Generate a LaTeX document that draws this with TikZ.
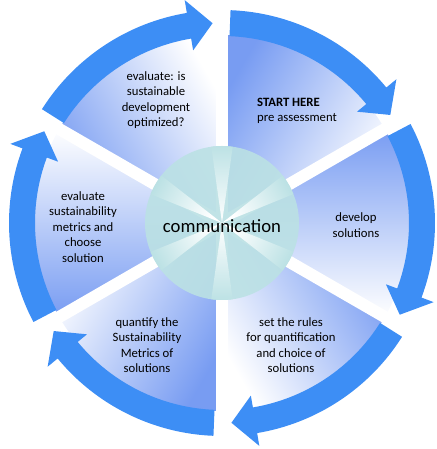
\documentclass[tikz,border=0pt]{standalone}
\usepackage{fontspec}
\setmainfont{Carlito}
\definecolor{arrowblue}{RGB}{61,142,245}
\definecolor{wedgeblue}{RGB}{120,156,242}
\definecolor{hubteal}{RGB}{187,225,228}

\begin{document}
\begin{tikzpicture}[x=1pt, y=1pt,
    band/.style={fill=arrowblue, draw=none},
    gapline/.style={white, line width=12},
    stagetext/.style={align=center, text=black, font=\fontsize{12.7}{15.5}\selectfont}]
      \useasboundingbox (-222,-226) rectangle (214,223);
      \coordinate (C) at (0,0);
      \foreach \s in {90,30,-30,-90,-150,150} {
        \pgfmathsetmacro\m{\s-30}
        \shade[top color=wedgeblue, bottom color=white, shading angle=\m]
          (C) -- (\s:188) arc[start angle=\s, end angle=\s-60, radius=188] -- cycle;
      }
      \foreach \g in {90,30,-30,-90,-150,150}
        \draw[gapline] (C) -- (\g:240);
      \foreach \s in {90,30,-30,-90,-150,150} {
        \pgfmathsetmacro\a{\s-2.3}
        \pgfmathsetmacro\w{\s-50.5}
        \pgfmathsetmacro\t{\s-57.3}
        \fill[band] (\a:213) arc[start angle=\a, end angle=\w, radius=213]
          -- (\w:226) -- (\t:200) -- (\w:175) -- (\w:187)
          arc[start angle=\w, end angle=\a, radius=187] -- cycle;
      }
      \fill[hubteal, fill opacity=0.9] (C) circle (77);
      \begin{scope}
        \clip (C) circle (77);
        \foreach \g in {90,30,-30,-90,-150,150}
          \shade[top color=hubteal, bottom color=white, shading angle=\g-90]
            (C) -- (\g-8:80) -- (\g+8:80) -- cycle;
      \end{scope}
      \node[stagetext] (evalopt) at (-66,123) {evaluate: is\\sustainable\\development\\optimized?};
      \node[stagetext, align=left] (start) at (75,112) {\textbf{START HERE}\\pre assessment};
      \node[stagetext] (develop) at (134,-2) {develop\\solutions};
      \node[stagetext] (rules) at (69,-122) {set the rules\\for quantification\\and choice of\\solutions};
      \node[stagetext] (quantify) at (-75,-122) {quantify the\\Sustainability\\Metrics of\\solutions};
      \node[stagetext] (evalmetrics) at (-139,-4) {evaluate\\sustainability\\metrics and\\choose\\solution};
      \node[font=\fontsize{18.7}{22}\selectfont, text=black] (hub) at (0,-3) {communication};
\end{tikzpicture}
\end{document}
